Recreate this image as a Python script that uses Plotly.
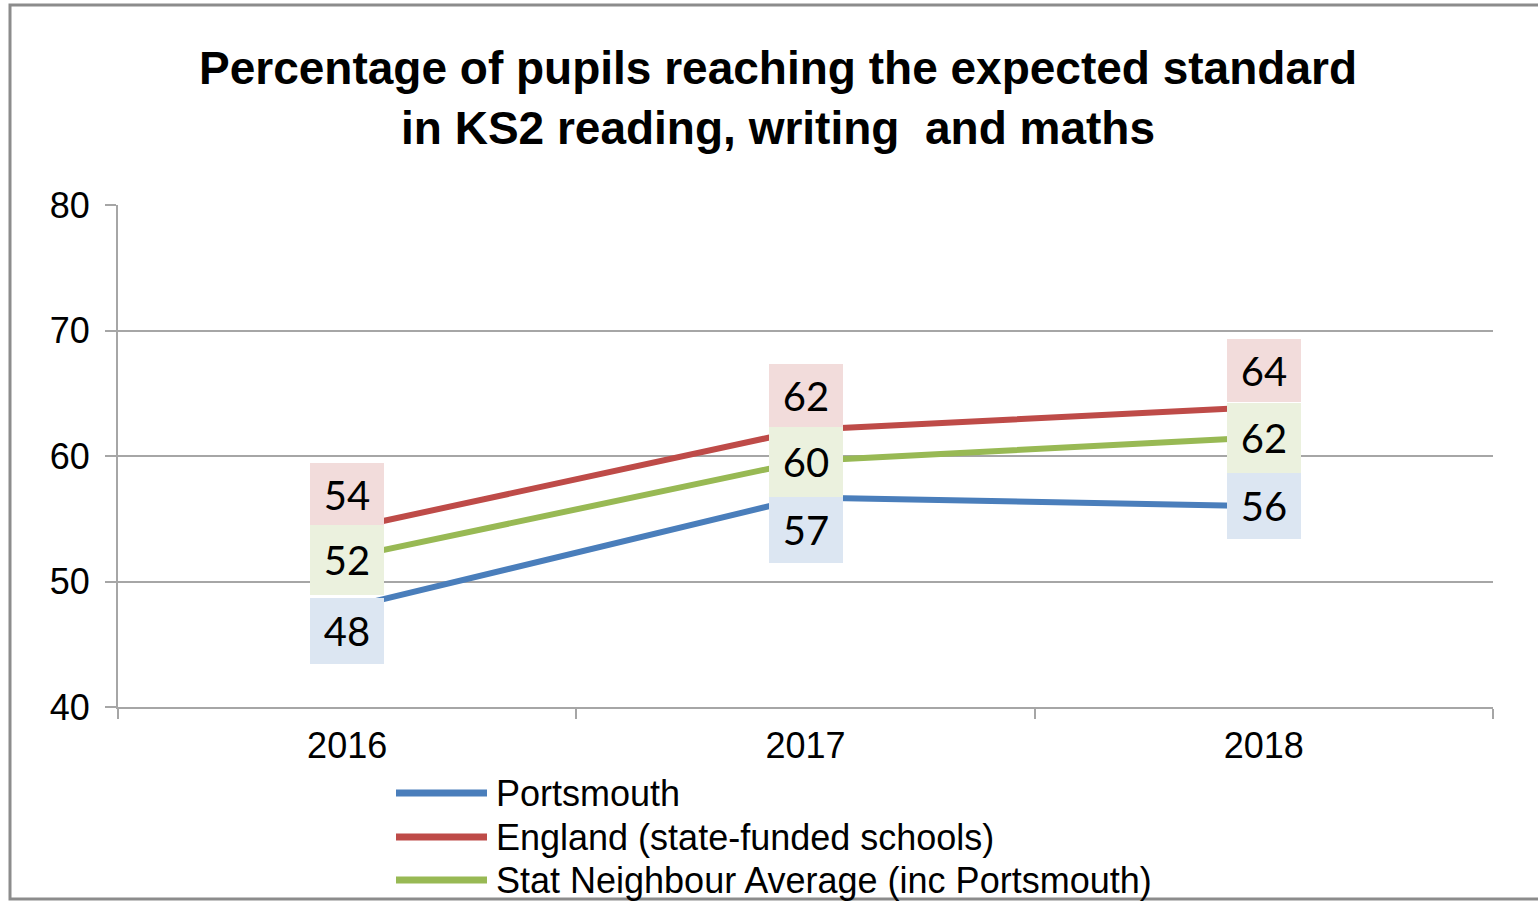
import plotly.graph_objects as go

# ---------------- data ----------------
years = ["2016", "2017", "2018"]
portsmouth = [47.9, 56.7, 56.0]
england = [54.2, 62.1, 63.9]
stat_neighbour = [51.9, 59.6, 61.5]

series_names = [
    "Portsmouth",
    "England (state-funded schools)",
    "Stat Neighbour Average (inc Portsmouth)",
]
y_ticks = [40, 50, 60, 70, 80]
title_text = ("Percentage of pupils reaching the expected standard<br>"
              "in KS2 reading, writing  and maths")

# ---------------- styles ----------------
W, H = 1538, 902
L, R, T, B = 118, 45, 205, 195
PW, PH = W - L - R, H - T - B

line_colors = ["#4A7EBB", "#BE4B48", "#98B954"]
box_colors = ["#DCE6F2", "#F2DCDB", "#EBF1DE"]
box_heights = [66, 63, 70]
# per-point label placement (anchor, pixel shift)
label_place = [
    [("top", 10), ("top", 0), ("middle", 0)],        # Portsmouth
    [("bottom", 3), ("bottom", 3), ("bottom", 5)],   # England
    [("middle", -2), ("middle", -1), ("middle", -1)],  # Stat neighbour
]
grid_col = "#A6A6A6"
axis_font = dict(family="Liberation Sans, Arial, sans-serif", size=36, color="#000000")


def px_x(px):
    return (px - L) / PW


def px_y(py):
    return (T + PH - py) / PH


all_series = [portsmouth, england, stat_neighbour]

fig = go.Figure()
for name, vals, col in zip(series_names, all_series, line_colors):
    fig.add_trace(go.Scatter(
        x=years, y=vals, mode="lines", name=name,
        line=dict(color=col, width=6), showlegend=False,
        hoverinfo="x+y+name",
    ))

annotations = []
for s, vals in enumerate(all_series):
    for i, v in enumerate(vals):
        anchor, shift = label_place[s][i]
        annotations.append(dict(
            x=i, y=v, xref="x", yref="y", text=f"{round(v):d}",
            showarrow=False, xanchor="center", yanchor=anchor, yshift=shift,
            width=74, height=box_heights[s], borderpad=0, borderwidth=0,
            bgcolor=box_colors[s], align="center", valign="middle",
            font=dict(family="Lato, 'Noto Sans', sans-serif", size=40, color="#000000"),
        ))

# custom legend (long line samples like the original)
legend_rows = [793, 837, 880]
shapes = []
for name, col, py in zip(series_names, line_colors, legend_rows):
    shapes.append(dict(type="line", xref="paper", yref="paper",
                       x0=px_x(396), x1=px_x(487), y0=px_y(py), y1=px_y(py),
                       line=dict(color=col, width=7)))
    annotations.append(dict(
        x=px_x(494), y=px_y(py), xref="paper", yref="paper", text=name,
        showarrow=False, xanchor="left", yanchor="middle",
        font=axis_font,
    ))

# outer chart border
shapes.append(dict(type="rect", xref="paper", yref="paper",
                   x0=px_x(10), x1=px_x(1600), y0=px_y(899), y1=px_y(5),
                   line=dict(color="#8C8C8C", width=3), fillcolor="rgba(0,0,0,0)",
                   layer="above"))

fig.update_layout(
    width=W, height=H,
    margin=dict(l=L, r=R, t=T, b=B, pad=0),
    paper_bgcolor="white", plot_bgcolor="white",
    title=dict(text=f"<b>{title_text}</b>", x=778 / W, xanchor="center",
               y=1 - 84 / H, yanchor="top", yref="container",
               font=dict(family="Liberation Sans, Arial, sans-serif", size=46, color="#000000")),
    annotations=annotations,
    shapes=shapes,
    showlegend=False,
)
fig.update_xaxes(
    type="category", categoryorder="array", categoryarray=years,
    range=[-0.5, 2.5], tickson="boundaries", ticks="outside", ticklen=10,
    tickwidth=2, tickcolor=grid_col, showline=True, linecolor=grid_col,
    linewidth=2, showgrid=False, tickfont=axis_font, ticklabelstandoff=6,
)
fig.update_yaxes(
    range=[40, 80], tickvals=y_ticks, ticks="outside", ticklen=11,
    tickwidth=2, tickcolor=grid_col, showline=True, linecolor=grid_col,
    linewidth=2, showgrid=True, gridcolor=grid_col, gridwidth=2,
    zeroline=False, tickfont=axis_font, ticklabelstandoff=8,
)

fig.write_html("out.html", config={"displayModeBar": False},
               post_script="document.body.style.margin='0';")
